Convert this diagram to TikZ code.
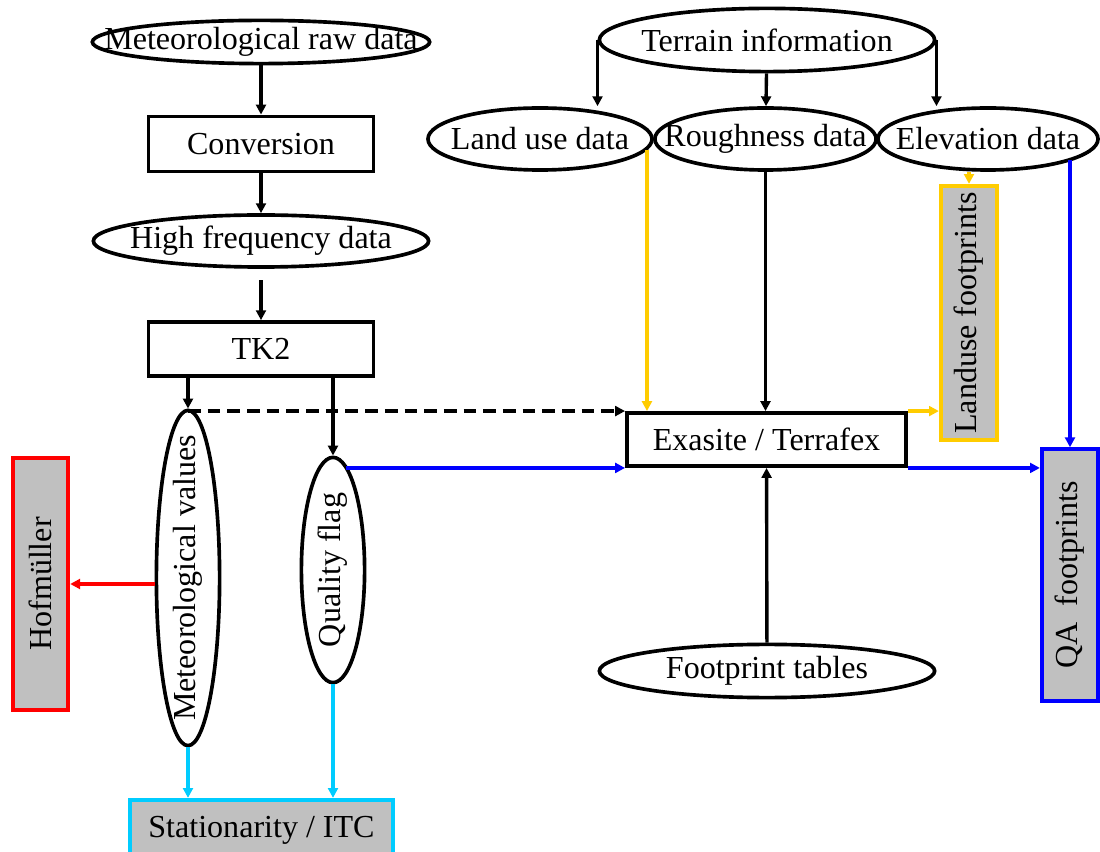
\documentclass[tikz,border=0pt]{standalone}
\usepackage{fontspec}
\setmainfont{Liberation Serif}
\usepackage{graphicx}
\usepackage{tikz}
\usetikzlibrary{shapes,arrows.meta}
\usetikzlibrary{calc}
\definecolor{lu_yellow}{RGB}{255,204,0}
\definecolor{st_cyan}{RGB}{0,204,255}
\definecolor{box_grey}{RGB}{192,192,192}

\begin{document}
\begin{tikzpicture}[x=0.025cm, y=-0.025cm, line width=2.4pt, font=\fontsize{22.8}{27}\selectfont,
	>={Triangle[length=7pt,width=7pt]},
	data_node/.style={ellipse,draw,line width=2.6pt,inner sep=0pt},
	proc_node/.style={rectangle,draw,line width=2.6pt,inner sep=0pt},
	out_node/.style={rectangle,draw,line width=3pt,fill=box_grey,inner sep=0pt}]
				\useasboundingbox (0,0) rectangle (1100,852);
				% left column
				\node[data_node, minimum width=8.43cm, minimum height=1.08cm, label=center:Meteorological raw data] (raw_data) at (261,42) {};
				\node[proc_node, minimum width=5.63cm, minimum height=1.38cm] (conv) at (261,144) {Conversion};
				\node[data_node, minimum width=8.38cm, minimum height=1.3cm, label=center:High frequency data] (hf_data) at (261,241) {};
				\node[proc_node, minimum width=5.63cm, minimum height=1.35cm] (tk2) at (261,349) {TK2};
				\node[data_node, minimum width=1.58cm, minimum height=8.38cm, label={[rotate=90]center:Meteorological values}] (met_val) at (188,578) {};
				\node[data_node, minimum width=1.58cm, minimum height=5.63cm, label={[rotate=90]center:Quality flag}] (q_flag) at (333,570) {};
				\node[out_node, draw=red, minimum width=1.38cm, minimum height=6.3cm] (hof) at (40.5,584) {\rotatebox{90}{Hofmüller}};
				\node[out_node, draw=st_cyan, minimum width=6.58cm, minimum height=1.5cm] (stat) at (261.5,830) {Stationarity / ITC};
				% right part
				\node[data_node, minimum width=8.38cm, minimum height=1.58cm, label=center:Terrain information] (terrain) at (767,40) {};
				\node[data_node, minimum width=5.6cm, minimum height=1.55cm, label=center:Land use data] (land_use) at (540,139) {};
				\node[data_node, minimum width=5.53cm, minimum height=1.55cm, label=center:Roughness data] (rough) at (765.5,139) {};
				\node[data_node, minimum width=5.5cm, minimum height=1.55cm, label=center:Elevation data] (elev) at (988,139) {};
				\node[out_node, draw=lu_yellow, minimum width=1.4cm, minimum height=6.35cm] (lu_fp) at (969,313) {\rotatebox{90}{Landuse footprints}};
				\node[proc_node, minimum width=6.98cm, minimum height=1.33cm] (exa) at (766.5,439.5) {Exasite / Terrafex};
				\node[out_node, draw=blue, minimum width=1.4cm, minimum height=6.28cm] (qa_fp) at (1070,575) {\rotatebox{90}{QA~~footprints}};
				\node[data_node, minimum width=8.38cm, minimum height=1.33cm, label=center:Footprint tables] (fp_tab) at (767,671) {};
				
				\path[->]
				(raw_data) edge (conv)
				(conv) edge (hf_data)
				(hf_data) edge[shorten <=0.28cm] (tk2)
				(tk2.south -| met_val.north) edge (met_val.north)
				(tk2.south -| q_flag.north) edge (q_flag.north);
				\draw[->,dash pattern=on 9pt off 5pt] (exa.north west -| met_val.north) -- (exa.north west);
				\draw[->,blue] (q_flag.83 |- exa.south west) -- (exa.south west);
				\draw[->,red] (met_val.west |- hof.east) -- (hof.east);
				\draw[->,st_cyan] (met_val.south) -- (met_val.south |- stat.north);
				\draw[->,st_cyan] (q_flag.south) -- (q_flag.south |- stat.north);
				
				\path[->]
				(terrain.west) edge (terrain.west |- land_use.north)
				(terrain) edge (rough)
				(terrain.east) edge (terrain.east |- elev.north)
				(rough.south) edge (rough.south |- exa.north)
				(fp_tab) edge (exa);
				\draw[->,lu_yellow] (land_use.-6) -- (land_use.-6 |- exa.north);
				\draw[->,lu_yellow] (lu_fp.north |- elev.south) -- (lu_fp.north);
				\draw[->,lu_yellow] (exa.north east) -- (exa.north east -| lu_fp.west);
				\draw[->,blue] (elev.-14.5 -| qa_fp.north) -- (qa_fp.north);
				\draw[->,blue] (exa.south east) -- (exa.south east -| qa_fp.west);
			\end{tikzpicture}
\end{document}
